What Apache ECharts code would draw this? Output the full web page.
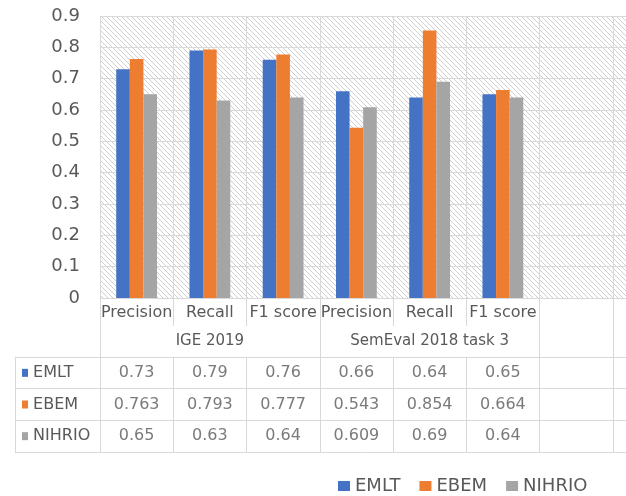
<!DOCTYPE html>
<html>
<head>
<meta charset="utf-8">
<script src="https://cdn.jsdelivr.net/npm/echarts@6/dist/echarts.min.js"></script>
<style>
  html, body { margin: 0; padding: 0; background: #fff; }
  #chart { width: 626px; height: 496px; }
</style>
</head>
<body>
<div id="chart"></div>
<script>
// Category axis: metric per column (two trailing empty columns), dataset group labels
const metrics = ['Precision', 'Recall', 'F1 score', 'Precision', 'Recall', 'F1 score', '', ''];
const groupLabels = ['', 'IGE 2019', '', '', 'SemEval 2018 task 3', '', '', ''];
const groupStarts = [0, 3, 6, 7];

// Series
const seriesNames = ['EMLT', 'EBEM', 'NIHRIO'];
const emlt   = [0.73, 0.79, 0.76, 0.66, 0.64, 0.65];
const ebem   = [0.763, 0.793, 0.777, 0.543, 0.854, 0.664];
const nihrio = [0.65, 0.63, 0.64, 0.609, 0.69, 0.64];

// Value axis ticks
const yMin = 0, yMax = 0.9, yStep = 0.1;

const colors = ['#4472C4', '#ED7D31', '#A5A5A5'];
const textColor = '#595959';
const lineColor = '#d9d9d9';
const font = 'DejaVu Sans';

// Diagonal hatch used as the plot-area fill
function hatchTile() {
  const c = document.createElement('canvas');
  c.width = 5; c.height = 5;
  const g = c.getContext('2d');
  g.fillStyle = '#ffffff';
  g.fillRect(0, 0, 5, 5);
  g.strokeStyle = '#cfcfcf';
  g.lineWidth = 1;
  g.beginPath();
  g.moveTo(-1, -1);
  g.lineTo(6, 6);
  g.stroke();
  return c;
}

const rows = [emlt, ebem, nihrio];
const cells = [];
rows.forEach((row, r) => row.forEach((v, c) => cells.push([c, r, v])));

const plotW = 586;
const gridLine = { color: lineColor, width: 1 };

const chart = echarts.init(document.getElementById('chart'), null, { renderer: 'canvas' });
chart.setOption({
  animation: false,
  color: colors,
  textStyle: { fontFamily: font, color: textColor },
  grid: [
    { left: 100, top: 16, width: plotW, height: 282, show: true, borderWidth: 0, outerBoundsMode: 'none',
      backgroundColor: { image: hatchTile(), repeat: 'repeat' } },
    { left: 100, top: 16, width: plotW, height: 282, outerBoundsMode: 'none' },
    { left: 100, top: 357, width: plotW, height: 95, outerBoundsMode: 'none' },
    { left: 15, top: 357, width: 85, height: 95, outerBoundsMode: 'none' }
  ],
  xAxis: [
    { gridIndex: 0, type: 'category', data: metrics, position: 'bottom',
      axisLine: { show: true, lineStyle: gridLine },
      axisTick: { show: true, interval: 0, length: 28, lineStyle: gridLine },
      axisLabel: { interval: 0, margin: 7, fontSize: 16, color: textColor, fontFamily: font },
      splitLine: { show: true, interval: 0, lineStyle: gridLine } },
    { gridIndex: 1, type: 'category', data: groupLabels, position: 'bottom',
      axisLine: { show: false },
      axisTick: { show: true, interval: (i) => groupStarts.indexOf(i) >= 0, length: 59, lineStyle: gridLine },
      axisLabel: { interval: 0, margin: 36, fontSize: 15, color: textColor, fontFamily: font },
      splitLine: { show: false } },
    { gridIndex: 2, type: 'category', data: metrics, position: 'top',
      axisLine: { show: false }, axisTick: { show: false }, axisLabel: { show: false },
      splitLine: { show: true, interval: 0, lineStyle: gridLine } },
    { gridIndex: 3, type: 'value', show: false }
  ],
  yAxis: [
    { gridIndex: 0, type: 'value', min: yMin, max: yMax, interval: yStep,
      axisLine: { show: false }, axisTick: { show: false },
      axisLabel: { margin: 20, fontSize: 18, color: textColor, fontFamily: font },
      splitLine: { show: true, lineStyle: gridLine } },
    { gridIndex: 1, type: 'value', min: yMin, max: yMax, show: false },
    { gridIndex: 2, type: 'category', data: seriesNames, inverse: true,
      axisLine: { show: true, lineStyle: gridLine }, axisTick: { show: false }, axisLabel: { show: false },
      splitLine: { show: true, interval: 0, lineStyle: gridLine } },
    { gridIndex: 3, type: 'category', data: seriesNames, inverse: true,
      axisLine: { show: true, lineStyle: gridLine }, axisTick: { show: false },
      axisLabel: {
        inside: true, margin: 7, interval: 0,
        formatter: (v, i) => '{k' + i + '|}{t| ' + v + '}',
        rich: {
          k0: { width: 6, height: 8, backgroundColor: colors[0] },
          k1: { width: 6, height: 8, backgroundColor: colors[1] },
          k2: { width: 6, height: 8, backgroundColor: colors[2] },
          t: { fontSize: 16, color: textColor, fontFamily: font }
        }
      },
      splitLine: { show: true, interval: 0, lineStyle: gridLine } }
  ],
  legend: {
    data: seriesNames, left: 333, top: 472, icon: 'rect',
    itemWidth: 12, itemHeight: 10, itemGap: 19,
    textStyle: { fontSize: 18, color: textColor, fontFamily: font }
  },
  series: [
    { name: seriesNames[0], type: 'bar', xAxisIndex: 0, yAxisIndex: 0, data: emlt, barWidth: 13.6, barGap: '0%' },
    { name: seriesNames[1], type: 'bar', xAxisIndex: 0, yAxisIndex: 0, data: ebem, barWidth: 13.6, barGap: '0%' },
    { name: seriesNames[2], type: 'bar', xAxisIndex: 0, yAxisIndex: 0, data: nihrio, barWidth: 13.6, barGap: '0%' },
    { name: 'values', type: 'scatter', xAxisIndex: 2, yAxisIndex: 2, data: cells,
      symbolSize: 1, itemStyle: { color: 'rgba(0,0,0,0)' }, silent: true,
      label: { show: true, position: 'inside', formatter: (p) => String(p.value[2]),
               fontSize: 16, color: textColor, fontFamily: font } }
  ]
});
</script>
</body>
</html>
